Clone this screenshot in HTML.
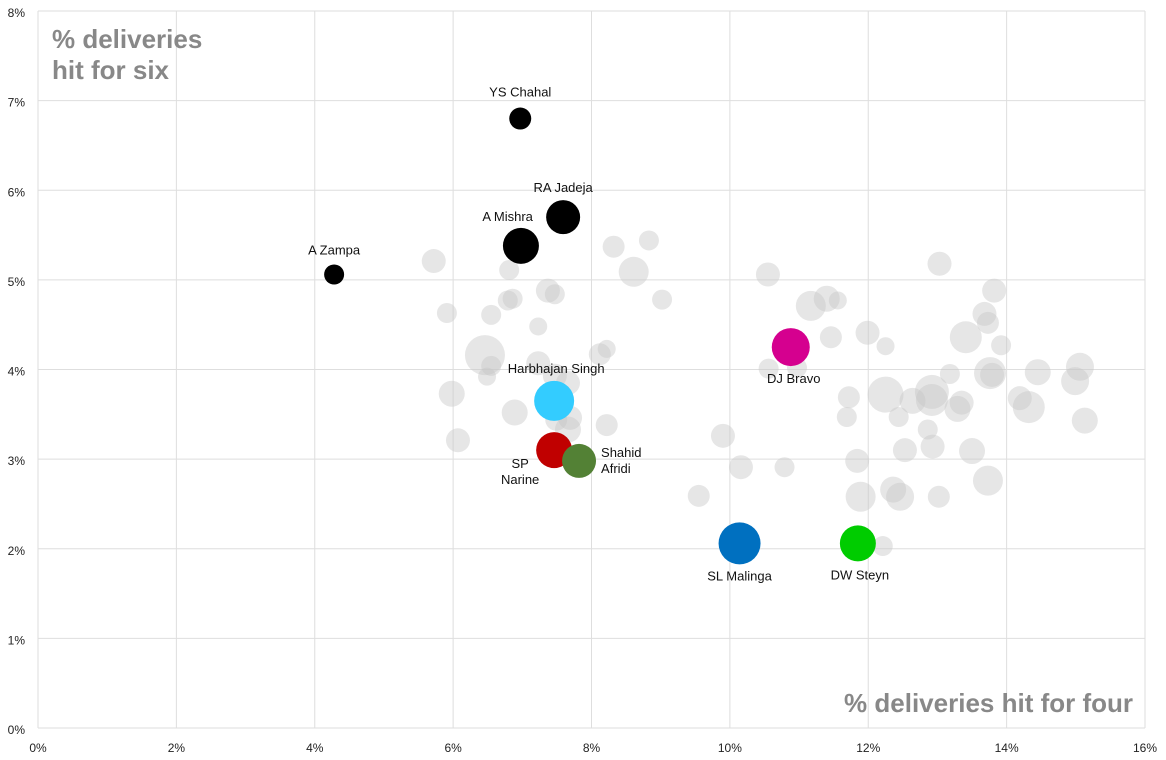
<!DOCTYPE html>
<html><head><meta charset="utf-8"><style>
body{margin:0;background:#fff;font-family:"Liberation Sans",sans-serif}
svg{display:block}
</style></head><body>
<svg id="chart" width="1166" height="760" xmlns="http://www.w3.org/2000/svg"></svg>
<script>
const xTicks=[0,2,4,6,8,10,12,14,16];
const yTicks=[0,1,2,3,4,5,6,7,8];
const greyFour=[5.72,5.91,6.55,6.81,6.79,6.86,7.23,7.37,7.47,6.46,6.55,6.49,5.98,6.07,6.89,7.23,7.66,7.47,7.69,7.66,8.22,8.12,8.22,8.32,8.61,8.83,9.02,10.55,11.17,11.40,11.56,11.46,11.99,12.25,13.03,13.82,13.68,13.73,13.41,13.92,10.82,10.97,10.56,13.18,13.76,13.79,11.72,12.25,12.64,12.92,12.92,13.29,14.45,15.06,14.99,14.32,14.19,15.13,13.35,11.69,12.44,12.86,12.93,12.53,11.84,13.50,13.73,11.89,12.36,12.46,13.02,12.21,10.16,10.79,9.90,9.55,7.49];
const greySix=[5.21,4.63,4.61,5.11,4.77,4.79,4.48,4.88,4.84,4.16,4.04,3.92,3.73,3.21,3.52,4.07,3.85,3.93,3.46,3.33,3.38,4.17,4.23,5.37,5.09,5.44,4.78,5.06,4.71,4.79,4.77,4.36,4.41,4.26,5.18,4.88,4.62,4.52,4.36,4.27,4.24,4.02,4.01,3.95,3.96,3.94,3.69,3.72,3.65,3.75,3.66,3.56,3.97,4.03,3.87,3.58,3.68,3.43,3.63,3.47,3.47,3.33,3.14,3.10,2.98,3.09,2.76,2.58,2.66,2.58,2.58,2.03,2.91,2.91,3.26,2.59,3.44];
const greySize=[12,10,10,10,10,10,9,12,10,20,10,9,13,12,13,12,12,12,12,13,11,11,9,11,15,10,10,12,15,13,9,11,12,9,12,12,12,11,16,10,11,10,10,10,16,12,11,18,13,17,16,13,13,14,14,16,12,13,12,10,10,10,12,12,12,13,15,15,13,14,11,10,12,10,12,11,11];
const hlNames=["YS Chahal","RA Jadeja","A Mishra","A Zampa","Harbhajan Singh","SP Narine","Shahid Afridi","DJ Bravo","SL Malinga","DW Steyn"];
const hlFour=[6.97,7.59,6.98,4.28,7.46,7.46,7.82,10.88,10.14,11.85];
const hlSix=[6.80,5.70,5.38,5.06,3.65,3.10,2.98,4.25,2.06,2.06];
const hlSize=[11,17,18,10,20,18,17,19,21,18];
const hlColor=["#000","#000","#000","#000","#33ccff","#c00000","#538135","#d5008f","#0070c0","#00cc00"];

const NS="http://www.w3.org/2000/svg",svg=document.getElementById('chart');
const X0=38,X1=1145,Y0=728,Y1=11;
const sx=v=>X0+(X1-X0)*v/16, sy=v=>Y0-(Y0-Y1)*v/8;
function mk(t,a,txt){const e=document.createElementNS(NS,t);for(const k in a)e.setAttribute(k,a[k]);if(txt!=null)e.textContent=txt;svg.appendChild(e);return e;}
xTicks.forEach(t=>{
 const l=mk('line',{x1:sx(t),x2:sx(t),y1:Y1,y2:Y0,stroke:'#dedede','stroke-width':1});
 
 
 const tx=mk('text',{x:sx(t),y:752,'text-anchor':'middle','font-size':12,fill:'#222'},t+'%');
 
 
});
yTicks.forEach(t=>{
 const l=mk('line',{x1:X0,x2:X1,y1:sy(t),y2:sy(t),stroke:'#dedede','stroke-width':1});
 
 
 const tx=mk('text',{x:25,y:sy(t)+6,'text-anchor':'end','font-size':12,fill:'#222'},t+'%');
 
 
});
greyFour.forEach((v,i)=>{
 const c=mk('circle',{cx:sx(v),cy:sy(greySix[i]),r:greySize[i],fill:'rgba(200,200,200,0.45)'});
 
 
});
const lbl=[[0,-22,'middle'],[0,-25,'middle'],[12,-25,'end'],[0,-20,'middle'],[2,-28,'middle'],[-27,18,'middle'],[22,-4,'start'],[3,36,'middle'],[0,37,'middle'],[2,36,'middle']];
hlFour.forEach((v,i)=>{
 const c=mk('circle',{cx:sx(v),cy:sy(hlSix[i]),r:hlSize[i],fill:hlColor[i]});
 
 
 const [dx,dy,an]=lbl[i];
 const t=mk('text',{x:sx(v)+dx,y:sy(hlSix[i])+dy,'text-anchor':an,'font-size':13,fill:'#111'});
 const parts=(i==5)?["SP","Narine"]:(i==6)?["Shahid","Afridi"]:[hlNames[i]];
 if(i==5){t.setAttribute('x',sx(v)-34);}
 parts.forEach((p,j)=>{const s=document.createElementNS(NS,'tspan');s.setAttribute('x',t.getAttribute('x'));s.setAttribute('dy',j?16:0);s.textContent=p;t.appendChild(s);});
 
 
});
const yt=mk('text',{x:52,y:48,'font-size':26,'font-weight':'bold',fill:'#888'});
['% deliveries','hit for six'].forEach((p,j)=>{const s=document.createElementNS(NS,'tspan');s.setAttribute('x',52);s.setAttribute('dy',j?31:0);s.textContent=p;yt.appendChild(s);});


const xt=mk('text',{x:1133,y:712,'text-anchor':'end','font-size':26,'font-weight':'bold',fill:'#888'},'% deliveries hit for four');


</script>
</body></html>
